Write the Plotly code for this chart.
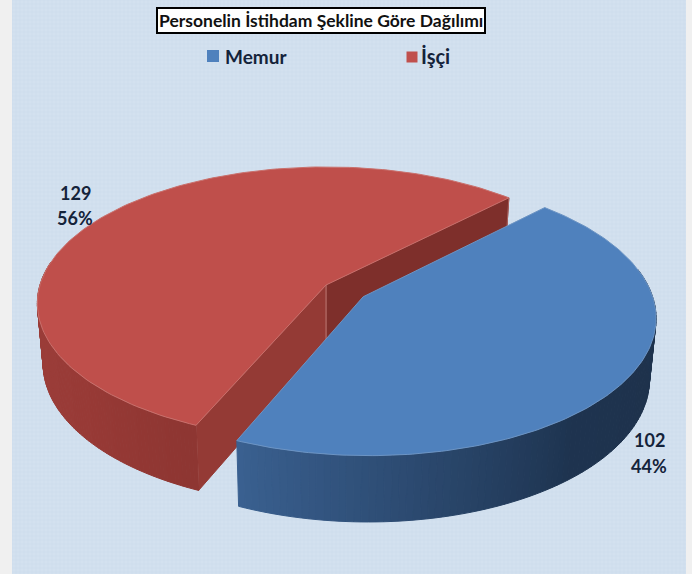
import numpy as np
import plotly.graph_objects as go

title = "Personelin İstihdam Şekline Göre Dağılımı"
categories = ["Memur", "İşçi"]
values = [102, 129]
percents = ["44%", "56%"]

# drawing settings
W, H = 692, 574
CX, CY = 326, 285      # pie centre on the page
A, B = 286, 134        # radii of the tilted disk
PERSP = 0.135          # depth foreshortening
DEPTH = 59.5           # wall height
DROP = 0.98            # bottom rim shrink
EXPLODE = 0.155        # memur slice pulled out
START = 45.5           # isci starts here, runs counter clockwise


def project(u, v, down=0.0):
    s = 1 / (1 + PERSP * v)
    x = A * u * s
    y = -B * v * s
    if down:
        x = x * DROP
        y = y * DROP + DEPTH * s
    return CX + x, CY + y


def mix(c1, c2, t):
    return "rgb(%d,%d,%d)" % tuple(c1[i] + (c2[i] - c1[i]) * t for i in range(3))


fig = go.Figure()


def poly(xs, ys, color, line=None, width=1):
    fig.add_trace(go.Scatter(
        x=list(xs) + [xs[0]], y=list(ys) + [ys[0]], mode="lines", fill="toself", fillcolor=color,
        line=dict(color=line or color, width=width), hoverinfo="skip", showlegend=False))


def edge(xs, ys, color, width=1):
    fig.add_trace(go.Scatter(x=xs, y=ys, mode="lines", line=dict(color=color, width=width),
                             hoverinfo="skip", showlegend=False))


def outer_wall(t0, t1, off, stops):
    # strips along the rim so the wall gets its shading
    n = 96
    ang = np.radians(np.linspace(t0, t1, n + 1))
    for i in range(n):
        a = np.linspace(ang[i], ang[i + 1], 3)
        u, v = off[0] + np.cos(a), off[1] + np.sin(a)
        xt, yt = project(u, v)
        xb, yb = project(u, v, True)
        f = i / (n - 1) * (len(stops) - 1)
        k = min(int(f), len(stops) - 2)
        col = mix(stops[k], stops[k + 1], f - k)
        poly(list(xt) + list(xb[::-1]), list(yt) + list(yb[::-1]), col)


def top_face(t0, t1, off, color, rim):
    a = np.radians(np.linspace(t0, t1, 160))
    ou, ov = off
    u = np.r_[ou, ou + np.cos(a)]
    v = np.r_[ov, ov + np.sin(a)]
    xs, ys = project(u, v)
    poly(xs, ys, color, rim, 1)


def cut_wall(angle, color, line):
    r = np.radians(angle)
    u0, v0 = np.cos(r), np.sin(r)
    x1, y1 = project(0.0, 0.0)
    x2, y2 = project(u0, v0)
    x3, y3 = project(u0, v0, True)
    x4, y4 = project(0.0, 0.0, True)
    poly([x1, x2, x3, x4], [y1, y2, y3, y4], color)
    edge([x1, x4], [y1, y4], line)
    edge([x2, x3], [y2, y3], line)


total = sum(values)
isci_sweep = 360 * values[1] / total
isci_start, isci_end = START, START + isci_sweep
memur_start, memur_end = isci_end, START + 360
mid = np.radians((memur_start + memur_end) / 2)
memur_off = (EXPLODE * np.cos(mid), EXPLODE * np.sin(mid))

# page background, with the fine dotted texture
fig.add_trace(go.Scatter(
    x=[12, 686, 686, 12, 12], y=[0, 0, H, H, 0], mode="lines", fill="toself", fillcolor="#d1e0ef",
    fillpattern=dict(shape="+", fgcolor="#dfe9f4", bgcolor="#cfdeed", size=4, solidity=0.25),
    line=dict(width=0), hoverinfo="skip", showlegend=False))

# isci slice
cut_wall(isci_start, "#7e2f2b", "#a9605c")
cut_wall(isci_end, "#943a35", "#b5726e")
outer_wall(170, isci_end, (0, 0), [(142, 54, 50), (156, 62, 58), (152, 58, 54), (142, 54, 50)])
top_face(isci_start, isci_end, (0, 0), "#bf4f4b", "#c9706c")

# memur slice
outer_wall(memur_start, 372, memur_off, [(58, 96, 144), (44, 74, 112), (30, 52, 80), (30, 50, 76), (32, 54, 82)])
top_face(memur_start, memur_end, memur_off, "#4f81bd", "#6c94c4")

# legend squares
fig.add_trace(go.Scatter(x=[213], y=[56], mode="markers", marker=dict(symbol="square", size=12, color="#4f81bd"),
                         hoverinfo="skip", showlegend=False))
fig.add_trace(go.Scatter(x=[412], y=[57], mode="markers", marker=dict(symbol="square", size=11, color="#c0504d"),
                         hoverinfo="skip", showlegend=False))

FONT = "Lato"
INK = "#14233a"
notes = [
    dict(x=321, y=20, text="<b>%s</b>" % title, size=17.5, color="#111111", bgcolor="#ffffff", border=True),
    dict(x=256, y=56, text="<b>%s</b>" % categories[0], size=19, color=INK),
    dict(x=435.5, y=56, text="<b>%s</b>" % categories[1], size=20, color=INK),
    dict(x=75, y=193, text="<b>%d</b>" % values[1], size=18, color=INK),
    dict(x=75, y=218, text="<b>%s</b>" % percents[1], size=18, color=INK),
    dict(x=649, y=440, text="<b>%d</b>" % values[0], size=18, color=INK),
    dict(x=649, y=466, text="<b>%s</b>" % percents[0], size=18, color=INK),
]
for n in notes:
    fig.add_annotation(
        x=n["x"], y=n["y"], text=n["text"], showarrow=False, xanchor="center", yanchor="middle",
        font=dict(family=FONT, size=n["size"], color=n["color"]),
        bgcolor=n.get("bgcolor"), bordercolor="#000000" if n.get("border") else None,
        borderwidth=2 if n.get("border") else 0, borderpad=1)

fig.update_layout(
    width=W, height=H, autosize=False, margin=dict(l=0, r=0, t=0, b=0),
    paper_bgcolor="#f0f0f0", plot_bgcolor="#f0f0f0", showlegend=False,
    xaxis=dict(range=[0, W], visible=False, fixedrange=True),
    yaxis=dict(range=[H, 0], visible=False, fixedrange=True),
)
fig.write_html("out.html", post_script="document.body.style.margin='0'", config=dict(displayModeBar=False))
